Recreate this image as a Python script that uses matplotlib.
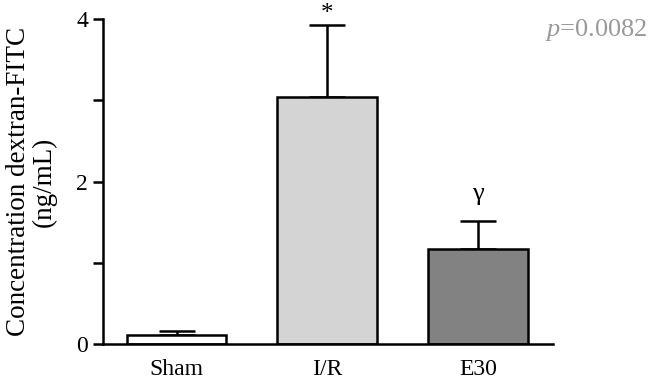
import matplotlib
matplotlib.use("Agg")
import matplotlib.pyplot as plt
from matplotlib.ticker import MultipleLocator

groups = ["Sham", "I/R", "E30"]
means = [0.11, 3.04, 1.17]
sems = [0.05, 0.89, 0.34]
bar_colors = ["white", "#d4d4d4", "#828282"]
marks = ["", "*", "γ"]

plt.rcParams["font.family"] = ["Liberation Serif", "DejaVu Serif"]
plt.rcParams["mathtext.fontset"] = "custom"
plt.rcParams["mathtext.it"] = "Liberation Serif:italic"
plt.rcParams["mathtext.rm"] = "Liberation Serif"

fig = plt.figure(figsize=(6.5, 3.79), dpi=100)
ax = fig.add_axes([0.158, 0.092, 0.693, 0.858])

x = range(len(groups))
ax.bar(x, means, width=0.66, color=bar_colors, edgecolor="black", linewidth=1.8, zorder=2)
ax.errorbar(x, means, yerr=[[0] * len(sems), sems], fmt="none", ecolor="black",
            elinewidth=1.8, capsize=13, capthick=1.8, zorder=1)

for xi, m, s, t in zip(x, means, sems, marks):
    if t == "*":
        # the star sits high in its box, so anchor it by the top
        ax.text(xi, m + s + 0.27, t, ha="center", va="top", fontsize=18)
    elif t:
        ax.text(xi, m + s + 0.2, t, ha="center", va="bottom", fontsize=19)

ax.text(0.997, 0.955, r"$p$=0.0082", transform=fig.transFigure, ha="right", va="top",
        fontsize=19, color="#999999")

ax.set_xlim(-0.49, 2.5)
ax.set_ylim(0, 4)
ax.yaxis.set_major_locator(MultipleLocator(2))
ax.yaxis.set_minor_locator(MultipleLocator(1))
ax.set_xticks(list(x))
ax.set_xticklabels(groups, fontsize=17)
ax.tick_params(axis="y", labelsize=17, width=1.8, length=7, direction="out")
ax.tick_params(axis="y", which="minor", width=1.8, length=7)
ax.tick_params(axis="x", length=0, pad=11)
ax.set_ylabel("Concentration dextran-FITC\n(ng/mL)", fontsize=19.5, linespacing=1.05,
              labelpad=14)

for side in ["top", "right"]:
    ax.spines[side].set_visible(False)
for side in ["left", "bottom"]:
    ax.spines[side].set_linewidth(1.8)

fig.savefig("out.png", dpi=100)
